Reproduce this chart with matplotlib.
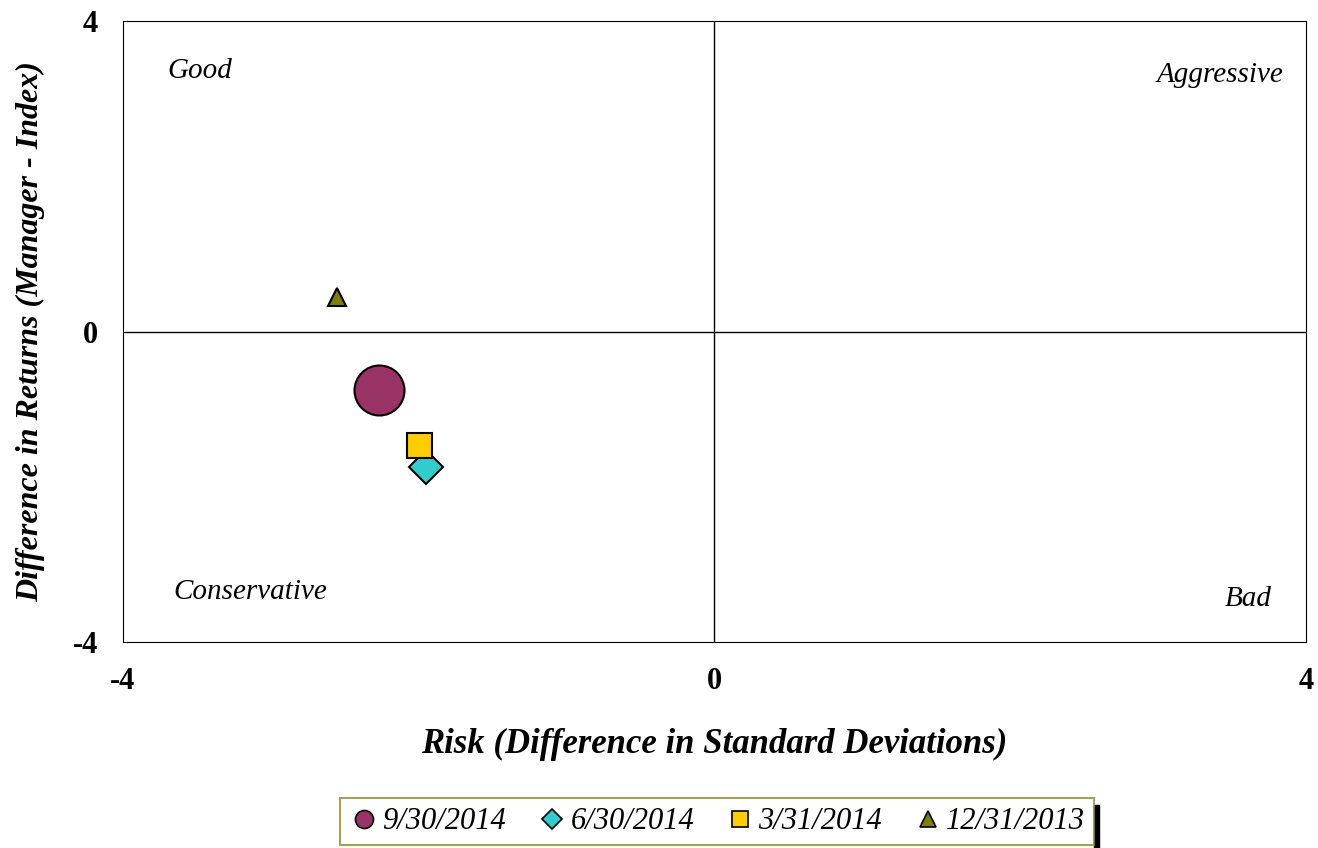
import matplotlib.pyplot as plt
from matplotlib.patches import Rectangle

# data
dates = ["9/30/2014", "6/30/2014", "3/31/2014", "12/31/2013"]
risk = [-2.27, -1.95, -2.00, -2.55]
returns = [-0.75, -1.75, -1.46, 0.45]
colors = ["#993366", "#33CCCC", "#FFCC00", "#808000"]
markers = ["o", "D", "s", "^"]
sizes = [36, 17.5, 18, 13.5]
leg_sizes = [13, 10, 12, 11]

quadrants = ["Good", "Aggressive", "Conservative", "Bad"]
quad_x = [-3.48, 3.42, -3.14, 3.61]
quad_y = [3.35, 3.30, -3.35, -3.45]

plt.rcParams["font.family"] = ["Liberation Serif", "DejaVu Serif"]
plt.rcParams["axes.unicode_minus"] = False

fig = plt.figure(figsize=(13.18, 8.48), dpi=100)
ax = fig.add_axes([0.0933, 0.2429, 0.8976, 0.7323])

ax.axhline(0, color="black", linewidth=1, zorder=1)
ax.axvline(0, color="black", linewidth=1, zorder=1)

handles = []
for i in range(len(dates)):
    ax.plot(risk[i], returns[i], marker=markers[i], markersize=sizes[i],
            color=colors[i], markeredgecolor="black", markeredgewidth=1.5,
            linestyle="none", zorder=3)
    h, = ax.plot([], [], marker=markers[i], markersize=leg_sizes[i],
                 color=colors[i], markeredgecolor="black", markeredgewidth=1.2,
                 linestyle="none", label=dates[i])
    handles.append(h)

for name, qx, qy in zip(quadrants, quad_x, quad_y):
    ax.text(qx, qy, name, ha="center", va="center", fontsize=21, style="italic")

ax.set_xlim(-4, 4)
ax.set_ylim(-4, 4)
ax.set_xticks([-4, 0, 4])
ax.set_yticks([-4, 0, 4])
ax.tick_params(length=0, labelsize=22)
ax.tick_params(axis="x", pad=18)
ax.tick_params(axis="y", pad=18)
for lab in ax.get_xticklabels() + ax.get_yticklabels():
    lab.set_fontweight("bold")

ax.set_xlabel("Risk (Difference in Standard Deviations)", fontsize=25,
              fontweight="bold", style="italic")
ax.set_ylabel("Difference in Returns (Manager - Index)", fontsize=23,
              fontweight="bold", style="italic")
ax.xaxis.set_label_coords(0.5, -0.139)
ax.yaxis.set_label_coords(-0.066, 0.5)

leg = fig.legend(handles=handles, loc="center", bbox_to_anchor=(0.544, 0.031),
                 ncol=4, prop={"style": "italic", "size": 22},
                 frameon=True, fancybox=False, handletextpad=0.1,
                 columnspacing=1.0, borderpad=0.3, handlelength=1.0)
leg.get_frame().set_edgecolor("#8c8c2a")
leg.get_frame().set_linewidth(1.5)

# black shadow at right of legend box
fig.canvas.draw()
bb = leg.get_window_extent()
fig.add_artist(Rectangle((bb.x1 / 1318, 0.0), 5 / 1318, 43 / 848,
                         transform=fig.transFigure, color="black"))

fig.savefig("out.png", dpi=100)
